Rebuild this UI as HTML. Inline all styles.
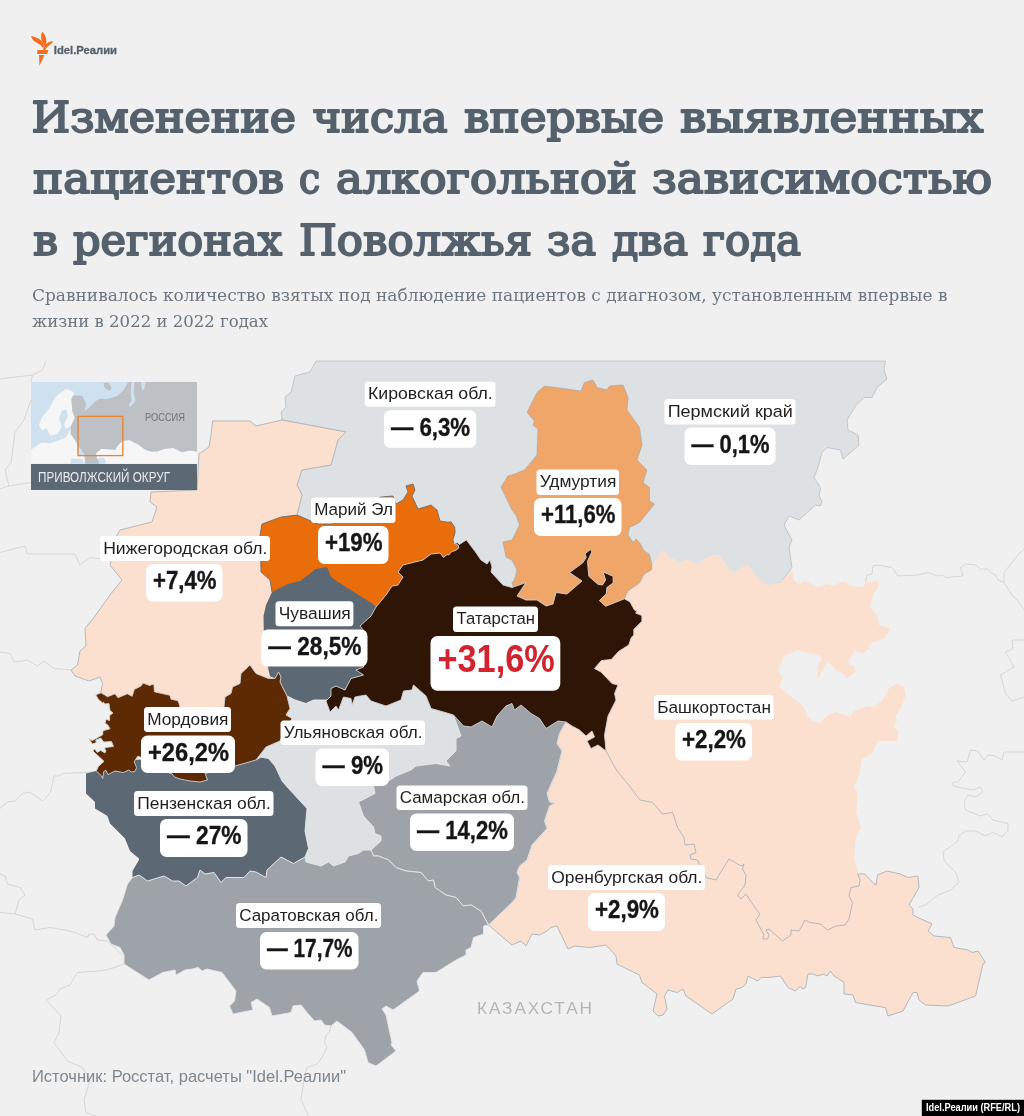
<!DOCTYPE html>
<html lang="ru"><head><meta charset="utf-8"><title>Idel.Реалии</title>
<style>
html,body{margin:0;padding:0;background:#f0f0f0;}
body{width:1024px;height:1116px;position:relative;overflow:hidden;font-family:"Liberation Sans",sans-serif;}
svg{position:absolute;left:0;top:0;}
.t{font-family:"Liberation Sans",sans-serif;}
.nm{font-size:17.2px;fill:#1f1f1f;}
.vl{font-size:25.8px;font-weight:bold;fill:#161616;stroke:#161616;stroke-width:0.35px;}
.title{font-family:"DejaVu Serif Condensed","DejaVu Serif","Liberation Serif",serif;font-size:42.5px;fill:#55616c;stroke:#55616c;stroke-width:1.8px;stroke-linejoin:round;}
.sub{font-family:"DejaVu Serif","Liberation Serif",serif;fill:#6c7680;}
</style></head><body>
<svg width="1024" height="1116" viewBox="0 0 1024 1116">
<rect x="0" y="0" width="1024" height="1116" fill="#f0f0f0"/>
<g id="bglines" fill="none" stroke="#d6d6d6" stroke-width="1">
<polyline points="46,361 42.5,370 32.5,375 31,382"/>
<polyline points="0,379 32.5,375"/>
<polyline points="31,400 27.5,410 24,420 15,432.5 11,462.5 5,470 9,486 0,489"/>
<polyline points="9,486 31,482.5"/>
<polyline points="0,552.5 25,546 27.5,554 75,554 80,565 90,557.5 110,560"/>
<polyline points="0,652 10,653.5 14,662 27.5,660 37.5,666 44,661 54,668.5 71,670"/>
<polyline points="96,772 62.5,773.5 60,776 54,776 51,791 47.5,796 42.5,801 30,792 22.5,793.5 15,801 7.5,802 0,808.5"/>
<polyline points="0,874 5,876 7.5,884 20,887.5 25,895 19,900 15,914 0,912.5"/>
<polyline points="15,914 32.5,919 35,930 50,927.5 65,930 75,932.5 87.5,937.5 89,934 94,934 97.5,940 107.5,941 122.5,955"/>
<polyline points="124,964 110,969 100,971 77.5,972.5 70,985 60,989 56,995 46,1000 61,1016 59,1032.5 54,1042.5 65,1057.5 67.5,1061 82.5,1067.5 90,1080 84,1100 86,1112.5 96,1116"/>
<polyline points="331,1026 329.5,1032.5 326,1035 324.5,1042.5 327,1047.5 322,1057.5 317,1064 307,1067.5 304.5,1075 301,1100 308.5,1116"/>
<polyline points="865.5,582.5 867,575 872,574 873,566 877,565 892,567.5 898,576 918,575 928,572.5 938,576 943,575 945.5,577.5 963,576 960.5,567.5 965.5,564 975.5,565 980.5,569 988,569 990.5,572.5 995.5,575 998,580 1004,582.5 1012,595 1018,601 1024,610"/>
<polyline points="1004,582.5 1004,572.5 1018,555 1024,549"/>
<polyline points="1024,640 1012,640 1013,648.5 1005.5,652 1014,667 1000.5,675 1005.5,693.5 1012,701 1024,697"/>
<polyline points="1024,752 1004,752 1002,760 995.5,756 988,755 984,760 978,751 970.5,750 967,762 957,761 965.5,772 958,782 953,782 953,786 973,790 980.5,787 983,792 975.5,797 968,795 964,802 965.5,810 980.5,816 987,813.5 993,820 1008,823.5 1008,831 1002,837 993,832 985.5,836 975.5,831 965.5,831 959,836 958,841 943,852 944,860 949,866 955.5,872 959,882.5 950.5,890 938,895 925.5,905 918,907.5"/>
</g>
<g id="regions" stroke="#b2b8be" stroke-width="0.9" stroke-linejoin="round">
<polygon id="kirovperm" fill="#dee1e3" stroke="#b7bcc1" stroke-width="0.8" points="316,361 885.5,361 884,370 887,379 877,387.5 872,397.5 864,397.5 855.5,406 847,420 848,430 858,435 859,445 843,459 840.5,450 827,447.5 822,452.5 818,467.5 814,477.5 820.5,487.5 819,496 822,501 820.5,506 815.5,505 799,520 789,516 784,525 792,540 789,547.5 792,567.5 780.5,582.5 768,586 762,600 640,600 512,600 458,560 300,530 297,515 302,495 297,485 302,470 331,465 338,440 346,432 282,420 281,412 286,407 285,397 291,392 295,376 310,372"/>
<polygon id="nizhny" fill="#fce0cf" stroke="#b3b8bd" stroke-width="1" points="212.5,421 250,421 256,426 282,420 346,432 338,440 331,465 302,470 297,485 302,495 297,515 290,530 275,560 280,600 275,640 275,672 260,690 250,700 225,720 175,720 150,700 105,700 101,692 102.5,683.5 100,677 89,681 75,676 71,670 77.5,665 80,651 86,646 85,628.5 95,616 110,595 122,580 110,565 117,535 120,530 152,522 157,507 150,502 151,492 197,490 199,454 209,447 211,435"/>
<polygon id="bashk" fill="#fce0cf" stroke="none" points="651.9,564.4 662.5,550.6 666.3,551.9 668.8,556.9 673.8,558.8 678.1,562.5 687.5,559.4 696.9,563.8 700,562.5 712,555 719.5,555 729.5,570 734.5,572.5 747,564 762,582.5 768,585 780.5,582.5 792,570 794,580 798,584 805.5,581 818,587.5 827,584 833,586 843,581 850.5,586 863,587.5 865.5,582.5 878,581 879,585 873,595 870.5,607.5 877,616 879,625 890.5,628.5 884,638.5 870.5,643.5 869,648.5 863,653.5 855.5,651 847,662 854,666 855.5,672 847,678.5 843,673.5 837,671 828,661 817,680 818,666 822,660 820.5,656 797,650 784,656 778,670 783,677 779,687 803,706 807,715 813,722 820.5,722 828,715 835.5,712 850.5,717 854,711 868,706 873,707 882,701 889,688.5 897,683.5 904,687 905.5,696 900.5,708.5 895.5,716 897,721 893,726 898,731 897,741 878,741 872,753.5 862,758.5 859,776 854,787 857,791 857.5,800 856,812.5 861,827.5 856,837.5 854,860 857.5,869 857.5,874 860,890 850,930 770,945 700,880 640,805 596,760 588,650 612,604 640,575"/>
<polygon id="orenb" fill="#fce0cf" stroke="#b3b8bd" stroke-width="1" points="606,751 617,771 629.5,786 640,800 652.5,802.5 662.5,814 672.5,812.5 677.5,827.5 684,837.5 685,845 694,844 696,852.5 690,855 691,859 697.5,860 706,877.5 716,880 729,859 741,866 744,864 742.5,869 746,875 745,885 737.5,895 741,899 746,894 756,909 760,914 756,920 764,935 762.5,939 767.5,939 769,935 766,930 769,929 782.5,941 791,935 791,930 799,931 805,920 810,922.5 820,924 827.5,930 836,926 845,925 849,919 852.5,902.5 849,896 851,887.5 859,886 860,880 857.5,874 865,874 871,881 876,885 877.5,875 887,871 900.5,874 908,877.5 918,876 919,887.5 909,905 913,909 913,915 918,917.5 932,924 928,931 934,936 950.5,937.5 954,947.5 968,950 972,952.5 978,951 985.5,962.5 983,964 975.5,996 948,1006 925.5,1005 919,1000 917,992.5 913,992.5 903,1011 888,1016 885.5,1007.5 875.5,1006 855.5,1002.5 853,995 844,994 844,982.5 834,976 830.5,971 827,976 823,974 818,976 813,974 808,974 805.5,987.5 803,989 800.5,986 795.5,991 788,987.5 780.5,976 768,977.5 761,977.5 758,981 748,976 746,984 742,987.5 736,989 733,999 712,1014 686,996 683,989 677,992.5 668,990 664.5,996 667,1009 663,1015 658,1016 653,1011 657,994 642,982.5 639.5,975 627,969 617,964 616,956 606,945 589.5,947.5 574.5,946 568,949 557,926 551,927.5 547,931 539.5,935 532,934 526,946 521,941 512,945 506,940 488.5,925 512,902.5 516,897.5 519.5,877.5 517,872.5 519.5,866 527,860 532,845 547,828.5 544.5,821 549.5,806 554.5,803.5 549.5,802 547,793.5 557,771 562,751 557,743.5 559.5,733.5 566,722 575,715 600,730"/>
<polygon id="udm" fill="#f0a668" stroke="#a3a9ae" stroke-width="0.7" points="544.5,386 581,391 584.5,382.5 593,380 597,387.5 607,390 609.5,386 623,385 628,397.5 627,410 639.5,427.5 642,445 637,460 647,470 643,482.5 649.5,487.5 649.5,501 654.5,504 639.5,522.5 629.5,527.5 628,535 633,542.5 636,539 639.5,542.5 643.8,550.6 649.4,554.4 651.9,564.4 651.3,570 643.8,574.4 639.4,583.1 627.5,591.3 624.4,598.8 630,612 560,615 517,600 512,582.5 514.5,580 517,570 512,560 506,557 503,542 512,540 519.5,525 516,515 512,510 501,487 508,476 512,475 524.5,470 537,455 538,429 533,425 534.5,421 527,412.5 537,392.5"/>
<polygon id="mari" fill="#e96d0a" stroke="#5c6873" stroke-width="0.8" points="297,515 281,517 262,524 260,535 261,572 270,580 272,592 290,610 380,615 470,560 458.8,548 458.2,545 454,543.4 452.9,539.8 455.2,532.2 454.6,527 451,521.7 448.2,522.3 440,521 437,510 431,505 418,509 412,496 415,490 413,484 406,486 408,492 403,500 396,504 393,496 381,497 350,512 333,524 318,524"/>
<polygon id="chuv" fill="#5c6873" stroke="none" points="272,592 288,584 300,581 316,569 327,567 331,577 338,582 373,604 376,607 380,640 370,680 363.5,675 351,678.5 345,690 336,686 331,688.5 331,696 327,700 313.5,700 306,703.5 295,700 287,696 280,682 281,677 278.5,672 275,678.5 270,676 268.5,670 264,640 263.5,616 266,605"/>
<polygon id="penza" fill="#5c6873" stroke="none" points="86,773.5 96,771 130,760 256,755 270,755 300,790 315,830 310,857 305,857 293.5,863.5 281,857 267,870 266,877.5 256,872 250,871 244,877.5 226,877.5 221,882.5 214,872.5 205,874 200,870 197.5,877.5 186,886 179,881 172.5,881 164,876 147.5,881 139,875 132.5,877.5 132.5,871 139,860 139,858.5 130,851 125,838.5 110,823.5 107.5,816 95,808.5 95,802 86,793.5"/>
<polygon id="ulyan" fill="#dee1e3" stroke="#e6e8ea" stroke-width="0.9" points="287,696 295,700 306,703.5 313.5,700 327,700 340,690 420,680 440,705 453.5,715 461,736 456,738.5 456,751 446,761 450,766 436,763.5 416,766 411,770 396,776 388.5,781 373.5,786 375,793.5 358.5,802 363.5,816 373.5,827 375,833.5 381,836 381,841 371,850 363.5,850 358.5,853.5 348.5,856 345,862 333.5,866 328.5,862 321,866 306,862 305,857 308.5,848.5 305,831 307,808.5 288.5,788.5 282,781 275,766 268.5,758.5 261,757 256,760 250,750 270,730 280,700"/>
<polygon id="samara" fill="#9da3a9" stroke="#e1e3e5" stroke-width="1" points="453.5,715 460,705 500,695 566,710 566,722 559.5,733.5 557,743.5 562,751 557,771 547,793.5 549.5,802 554.5,803.5 549.5,806 544.5,821 547,828.5 532,845 527,860 519.5,866 517,872.5 519.5,877.5 516,897.5 512,902.5 488.5,925 481,911 471,905 463.5,906 456,897.5 446,895 435,887.5 433.5,880 428.5,881 421,872.5 406,871 396,867.5 388.5,860 378.5,856 373.5,856 371,850 381,841 381,836 375,833.5 373.5,827 363.5,816 358.5,802 375,793.5 373.5,786 388.5,781 396,776 411,770 416,766 436,763.5 450,766 446,761 456,751 456,738.5 461,736"/>
<polygon id="saratov" fill="#9da3a9" stroke="#e1e3e5" stroke-width="1" points="132.5,877.5 139,875 147.5,881 164,876 172.5,881 179,881 186,886 197.5,877.5 200,870 205,874 214,872.5 221,882.5 226,877.5 244,877.5 250,871 256,872 266,877.5 267,870 281,857 293.5,863.5 305,857 306,862 321,866 328.5,862 333.5,866 345,862 348.5,856 358.5,853.5 363.5,850 371,850 373.5,856 378.5,856 388.5,860 396,867.5 406,871 421,872.5 428.5,881 433.5,880 435,887.5 446,895 456,897.5 463.5,906 471,905 481,911 488.5,925 483.5,926 483.5,934 473.5,937.5 471,947.5 466,950 466,955 456,960 436,972.5 423,972.5 417,981 419.5,991 393,1010 386,1006 382,1009 386,1015 392,1042.5 391,1045 396,1051 376,1066 368,1062.5 364.5,1050 352,1032.5 337,1021 331,1026 324.5,1025 321,1020 314.5,1021 307,1012.5 301,1005 293,1006 291,1012.5 272,1016 269.5,1007.5 257,999 251,1002.5 253,1010 233,1014 229.5,1006 234.5,1001 236,991 222,972.5 207,969 202,971 198,967.5 192,969 185,970 176,975 175,970 162.5,972.5 149,980 124,964 124,955 120,947.5 111,944 106,935 114,926 115,917.5 122.5,900 127.5,884"/>
<polygon id="mord" fill="#5e2a04" stroke="#cfd3d6" stroke-width="0.9" points="95.8,694.8 101,692.8 107.6,696.7 115,693.8 118,697.7 127.3,693.8 132.2,696.3 134.2,689.4 141,686 143,683 149.5,685.4 153.9,684 154.4,691.8 170,695.3 171,699.2 178,700.7 179,703.6 180,707 200,709 224,707 225,697 231,693.5 232.5,687 240,683.5 241,673.5 250,665 256,673.5 268.5,678.5 275,678.5 278.5,672 281,677 280,682 287,696 290,708.5 286,715 292,718.5 280,741 266,747 256,760 235,766 220,770 205,773.5 207.5,780 200,782 190,781 180,779 174.6,777 172,774 150,765 140,756.8 137.6,756.4 134.2,761.8 136.7,767.7 134.7,771.6 131.2,772 128.8,770 123.3,772.6 115,771 108,774.6 105.6,770 103.6,772 102.7,778.5 101.7,776 96.3,771 98.2,766.7 104,761.3 92.8,751 94.8,749 97.2,752.4 100.7,750.4 105,753 106,750.4 104.6,749 105.6,747.5 113.5,746.5 111.5,741.6 103.6,742 100.7,738 95.8,740 96.3,742.6 92.3,744 88.9,738.6 92.3,740.6 102.7,734.7 103,730.7 110,728.8 107.6,724.8 105,723.3 106,719.4 109.6,720.4 109.6,715.5 113,713 110,710.5 109,703.6 104.6,704 103.6,702.2 102.7,703 98.2,699.2"/>
<polygon id="tat" fill="#2e1505" stroke="#cfd3d6" stroke-width="0.9" points="376,607 386,595 392,586 398,585 403,577 398,572 403,565 423,560 431,554 440,553 443.5,557.4 447,554.5 448.8,555 451.7,551.6 455.8,550.4 458.8,548 458.2,545 454,543.4 457.6,542.8 459.3,544.5 462.9,542.2 466.4,539.9 475.2,551.6 481,560 487,564 490,560 492,567 491,572 503,585 512,587.5 522,584 526,582.5 517,596 526,600 537,600 546,606 553,604 556,592.5 567,594 582,581 569.5,572.5 582.5,563.1 586.3,557.5 585,553.8 590.6,549.4 591.9,551.9 587.5,561.3 588.8,576.3 598.1,584.4 602.5,585 605.6,580 603.1,571.9 613.1,576.3 613.1,583.1 606.9,587.5 606.3,593.8 599.4,600.6 605.6,606.3 624.4,598.8 630,601.9 634.4,610 636.9,611.3 635.6,613.1 641.9,615.6 641.9,621.3 633.8,629.4 633.8,635 631.3,637.5 628.8,645 618.8,651.3 611.3,659.4 601.3,660.6 594.5,668.5 601,672 612,683.5 618,685 614.5,693.5 616,700 608,716 604.5,735 606,751 598,745 591,748.5 587,741 594.5,737 592,731 586,736 579.5,730 572,726 566,722 558,721 546,728.5 539.5,718.5 531,713.5 521,705 514.5,710 512,703.5 506,706 497,716 492,727 482,721 471,727 463.5,726 453.5,715 443.5,712 431,708.5 426,696 413.5,685 412,690 403.5,691 401,700 386,706 371,701 366,695 355,697 352,705 351,698.5 343.5,697 338.5,710 336,706 330,712 326,701 331,696 331,688.5 336,686 345,690 351,678.5 363.5,675 356,670 363.5,667 366,633.5 360,626 371,616"/>
</g>
<text class="t" x="477" y="1013.8" textLength="115" lengthAdjust="spacing" style="font-size:17.2px;fill:#b1b6bb">КАЗАХСТАН</text>
<text class="t" x="32" y="1081.5" textLength="314" lengthAdjust="spacingAndGlyphs" style="font-size:16.6px;fill:#7d8790">Источник: Росстат, расчеты "Idel.Реалии"</text>
<rect x="921.8" y="1099.8" width="102.2" height="16.2" fill="#000"/>
<text class="t" x="926" y="1111" textLength="94" lengthAdjust="spacingAndGlyphs" style="font-size:10px;font-weight:bold;fill:#fff">Idel.Реалии (RFE/RL)</text>

<g id="labels">
<rect x="364.8" y="381.7" width="130.6" height="25.1" rx="3.5" fill="#fff"/><text class="t nm" x="368.0" y="399.2" textLength="124.8" lengthAdjust="spacingAndGlyphs">Кировская обл.</text>
<rect x="383.9" y="410.2" width="92.3" height="37.6" rx="6.5" fill="#fff"/><text class="t vl" x="390.9" y="435.5" textLength="79.3" lengthAdjust="spacingAndGlyphs">— 6,3%</text>
<rect x="664.5" y="399.0" width="131.0" height="25.5" rx="3.5" fill="#fff"/><text class="t nm" x="667.7" y="416.5" textLength="125.2" lengthAdjust="spacingAndGlyphs">Пермский край</text>
<rect x="684.5" y="427.5" width="91.0" height="37.5" rx="6.5" fill="#fff"/><text class="t vl" x="691.5" y="452.8" textLength="78.0" lengthAdjust="spacingAndGlyphs">— 0,1%</text>
<rect x="536.5" y="469.5" width="82.5" height="25.5" rx="3.5" fill="#fff"/><text class="t nm" x="539.7" y="487.0" textLength="76.7" lengthAdjust="spacingAndGlyphs">Удмуртия</text>
<rect x="534.0" y="498.0" width="87.5" height="38.0" rx="6.5" fill="#fff"/><text class="t vl" x="541.0" y="523.3" textLength="74.5" lengthAdjust="spacingAndGlyphs">+11,6%</text>
<rect x="311.0" y="497.5" width="84.5" height="25.5" rx="3.5" fill="#fff"/><text class="t nm" x="314.2" y="515.0" textLength="78.7" lengthAdjust="spacingAndGlyphs">Марий Эл</text>
<rect x="318.0" y="526.0" width="70.5" height="38.0" rx="6.5" fill="#fff"/><text class="t vl" x="325.0" y="551.3" textLength="57.5" lengthAdjust="spacingAndGlyphs">+19%</text>
<rect x="100.0" y="536.0" width="170.0" height="25.0" rx="3.5" fill="#fff"/><text class="t nm" x="103.2" y="553.5" textLength="164.2" lengthAdjust="spacingAndGlyphs">Нижегородская обл.</text>
<rect x="146.0" y="564.0" width="76.5" height="37.5" rx="6.5" fill="#fff"/><text class="t vl" x="153.0" y="589.3" textLength="63.5" lengthAdjust="spacingAndGlyphs">+7,4%</text>
<rect x="275.5" y="601.2" width="77.9" height="25.0" rx="3.5" fill="#fff"/><text class="t nm" x="278.7" y="618.7" textLength="72.1" lengthAdjust="spacingAndGlyphs">Чувашия</text>
<rect x="261.3" y="629.4" width="106.2" height="37.2" rx="6.5" fill="#fff"/><text class="t vl" x="268.3" y="654.7" textLength="93.2" lengthAdjust="spacingAndGlyphs">— 28,5%</text>
<rect x="144.0" y="707.0" width="87.0" height="25.0" rx="3.5" fill="#fff"/><text class="t nm" x="147.2" y="724.5" textLength="81.2" lengthAdjust="spacingAndGlyphs">Мордовия</text>
<rect x="141.0" y="735.5" width="94.0" height="37.5" rx="6.5" fill="#fff"/><text class="t vl" x="148.0" y="760.8" textLength="81.0" lengthAdjust="spacingAndGlyphs">+26,2%</text>
<rect x="280.5" y="720.5" width="144.5" height="24.5" rx="3.5" fill="#fff"/><text class="t nm" x="283.7" y="738.0" textLength="138.7" lengthAdjust="spacingAndGlyphs">Ульяновская обл.</text>
<rect x="315.5" y="748.5" width="73.5" height="37.5" rx="6.5" fill="#fff"/><text class="t vl" x="322.5" y="773.8" textLength="60.5" lengthAdjust="spacingAndGlyphs">— 9%</text>
<rect x="134.0" y="791.0" width="139.5" height="25.0" rx="3.5" fill="#fff"/><text class="t nm" x="137.2" y="808.5" textLength="133.7" lengthAdjust="spacingAndGlyphs">Пензенская обл.</text>
<rect x="160.0" y="819.0" width="87.5" height="38.0" rx="6.5" fill="#fff"/><text class="t vl" x="167.0" y="844.3" textLength="74.5" lengthAdjust="spacingAndGlyphs">— 27%</text>
<rect x="396.5" y="785.5" width="131.0" height="24.5" rx="3.5" fill="#fff"/><text class="t nm" x="399.7" y="803.0" textLength="125.2" lengthAdjust="spacingAndGlyphs">Самарская обл.</text>
<rect x="410.0" y="813.5" width="104.0" height="37.5" rx="6.5" fill="#fff"/><text class="t vl" x="417.0" y="838.8" textLength="91.0" lengthAdjust="spacingAndGlyphs">— 14,2%</text>
<rect x="654.0" y="695.0" width="119.5" height="24.5" rx="3.5" fill="#fff"/><text class="t nm" x="657.2" y="712.5" textLength="113.7" lengthAdjust="spacingAndGlyphs">Башкортостан</text>
<rect x="675.0" y="723.0" width="77.0" height="37.5" rx="6.5" fill="#fff"/><text class="t vl" x="682.0" y="748.3" textLength="64.0" lengthAdjust="spacingAndGlyphs">+2,2%</text>
<rect x="548.0" y="865.0" width="157.0" height="25.0" rx="3.5" fill="#fff"/><text class="t nm" x="551.2" y="882.5" textLength="151.2" lengthAdjust="spacingAndGlyphs">Оренбургская обл.</text>
<rect x="588.0" y="893.0" width="77.0" height="38.0" rx="6.5" fill="#fff"/><text class="t vl" x="595.0" y="918.3" textLength="64.0" lengthAdjust="spacingAndGlyphs">+2,9%</text>
<rect x="236.0" y="903.0" width="145.0" height="25.0" rx="3.5" fill="#fff"/><text class="t nm" x="239.2" y="920.5" textLength="139.2" lengthAdjust="spacingAndGlyphs">Саратовская обл.</text>
<rect x="260.0" y="932.0" width="98.5" height="37.5" rx="6.5" fill="#fff"/><text class="t vl" x="267.0" y="957.3" textLength="85.5" lengthAdjust="spacingAndGlyphs">— 17,7%</text>
<rect x="453" y="606.6" width="85" height="25.4" rx="3.5" fill="#fff"/><text class="t nm" x="456.6" y="624.2" textLength="78.4" lengthAdjust="spacingAndGlyphs">Татарстан</text>
<rect x="430.5" y="635.9" width="129.8" height="54.9" rx="7" fill="#fff"/><text class="t" x="437.4" y="672.3" textLength="117.4" lengthAdjust="spacingAndGlyphs" style="font-size:38.8px;font-weight:bold;fill:#d2232e">+31,6%</text>
</g>
<g id="inset">
<clipPath id="ic"><rect x="31" y="382" width="166" height="82"/></clipPath>
<rect x="31" y="382" width="166" height="82" fill="#cfe1ef"/>
<g clip-path="url(#ic)">
<polygon fill="#f6f6f6" points="66.2,389.0 73.2,391.7 74.9,395.2 71.4,398.7 72.3,411.0 74.9,418.0 70.6,426.8 65.3,428.6 64.4,423.3 67.9,416.3 66.2,409.2 61.8,411.0 59.1,418.0 61.8,426.8 57.4,433.9 50.3,435.6 46.8,428.6 41.5,430.3 38.9,425.1 41.5,418.0 48.6,409.2 55.6,396.9 61.8,391.7"/>
<polygon fill="#f6f6f6" points="31.0,449.7 41.5,442.6 50.3,443.5 59.1,440.0 66.2,437.4 70.6,428.6 74.9,433.9 76.7,444.4 78.5,454.9 83.7,456.7 85.5,463.7 31.0,463.7"/>
<polygon fill="#f6f6f6" points="96.9,458.5 96.0,453.2 101.3,448.8 115.4,449.7 117.1,446.2 122.4,440.9 129.4,440.0 138.2,444.4 145.3,449.7 150.5,451.4 157.6,451.4 164.6,448.8 173.4,447.9 182.2,452.3 189.2,450.6 197.1,451.4 197.1,463.7 101.3,463.7"/>
<polygon fill="#bdc1c5" points="73.2,395.2 82.0,396.1 86.4,404.0 84.6,410.1 80.2,412.8 87.2,409.2 94.3,402.2 99.6,398.7 106.6,399.1 111.9,397.8 117.1,396.1 122.4,391.7 126.4,385.5 127.7,382.0 197.1,382.0 197.1,451.4 189.2,450.6 182.2,452.3 173.4,447.9 164.6,448.8 157.6,451.4 150.5,451.4 145.3,449.7 138.2,444.4 129.4,440.0 122.4,440.9 117.1,446.2 115.4,449.7 101.3,448.8 96.0,453.2 96.9,458.5 101.3,463.7 84.6,463.7 85.5,458.5 83.7,453.2 78.5,446.2 76.7,442.6 70.6,433.9 70.6,426.8 74.9,418.0 72.3,411.0 71.4,398.7"/>
<polygon fill="#bdc1c5" points="103.4,382.9 108.3,382.5 111.9,388.5 109.0,391.0 104.5,387.4"/>
<polygon fill="#cfe1ef" points="131.5,382.0 134.4,382.0 133.7,393.4 135.8,400.5 132.6,404.9 129.4,407.0 128.7,404.9 131.5,400.5 130.7,393.4"/>
<polygon fill="#cfe1ef" points="141.0,382.0 145.6,382.0 144.2,389.0 142.4,390.8"/>
<polygon fill="#cfe1ef" points="97.8,458.5 103.9,457.6 106.6,463.7 98.7,463.7"/>
<polygon fill="#cfe1ef" points="71.4,458.5 82.0,459.3 84.6,463.7 70.6,463.7"/>
</g>
<rect x="31" y="464" width="166" height="26" fill="#5c6873"/>
<rect x="78" y="416.4" width="44.8" height="39.2" fill="none" stroke="#e8832f" stroke-width="1.3"/>
<text class="t" x="145" y="421.2" textLength="40" lengthAdjust="spacingAndGlyphs" style="font-size:11.8px;fill:#6d747a">РОССИЯ</text>
<text class="t" x="38" y="482.3" textLength="132" lengthAdjust="spacingAndGlyphs" style="font-size:13.8px;fill:#e9ebec">ПРИВОЛЖСКИЙ ОКРУГ</text>
</g>

<g id="logo" fill="#f2701d" transform="translate(20 20) scale(0.125)">
<path d="M88 128 Q140 136 172 166 Q190 186 193 216 L184 223 Q160 192 128 178 Q98 164 88 128Z"/>
<path d="M180 92 Q158 128 176 168 Q190 196 198 214 L205 212 Q216 176 208 146 Q200 116 180 92Z"/>
<path d="M266 170 Q226 168 204 198 Q190 220 183 242 L200 242 Q212 218 232 204 Q254 190 266 170Z"/>
<path d="M138 240 L228 240 L216 272 L138 272Z"/>
<path d="M152 280 L196 280 L156 366Z"/>
</g>
<text class="t" x="53.8" y="54" textLength="63.2" lengthAdjust="spacingAndGlyphs" style="font-size:11.6px;font-weight:bold;fill:#55616c;stroke:#55616c;stroke-width:0.3px">Idel.Реалии</text>
<text class="title" y="131.6"><tspan x="31.5" textLength="264.5" lengthAdjust="spacingAndGlyphs">Изменение</tspan> <tspan x="312.5" textLength="135.0" lengthAdjust="spacingAndGlyphs">числа</tspan> <tspan x="464.0" textLength="200.0" lengthAdjust="spacingAndGlyphs">впервые</tspan> <tspan x="680.0" textLength="303.5" lengthAdjust="spacingAndGlyphs">выявленных</tspan></text>
<text class="title" y="193.1"><tspan x="33.0" textLength="251.0" lengthAdjust="spacingAndGlyphs">пациентов</tspan> <tspan x="299.0" textLength="21.2" lengthAdjust="spacingAndGlyphs">с</tspan> <tspan x="336.0" textLength="301.0" lengthAdjust="spacingAndGlyphs">алкогольной</tspan> <tspan x="652.0" textLength="340.0" lengthAdjust="spacingAndGlyphs">зависимостью</tspan></text>
<text class="title" y="255.1"><tspan x="33.0" textLength="25.0" lengthAdjust="spacingAndGlyphs">в</tspan> <tspan x="73.0" textLength="209.0" lengthAdjust="spacingAndGlyphs">регионах</tspan> <tspan x="299.0" textLength="233.0" lengthAdjust="spacingAndGlyphs">Поволжья</tspan> <tspan x="547.0" textLength="49.0" lengthAdjust="spacingAndGlyphs">за</tspan> <tspan x="612.0" textLength="76.0" lengthAdjust="spacingAndGlyphs">два</tspan> <tspan x="703.0" textLength="98.0" lengthAdjust="spacingAndGlyphs">года</tspan></text>
<text class="sub" x="32" y="301.3" textLength="915.5" lengthAdjust="spacingAndGlyphs" style="font-size:17.2px">Сравнивалось количество взятых под наблюдение пациентов с диагнозом, установленным впервые в</text>
<text class="sub" x="32" y="327" textLength="236" lengthAdjust="spacingAndGlyphs" style="font-size:17.2px">жизни в 2022 и 2022 годах</text>

</svg>
</body></html>
